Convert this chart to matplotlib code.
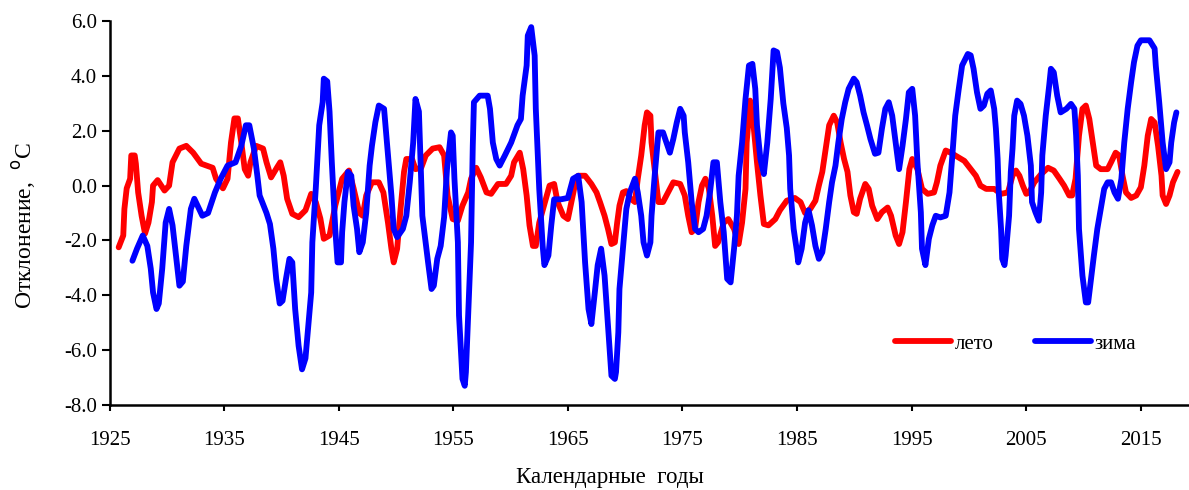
import matplotlib
matplotlib.use("Agg")
import matplotlib.pyplot as plt
from matplotlib.ticker import FormatStrFormatter

plt.rcParams["font.family"] = ["Liberation Serif", "DejaVu Serif"]
plt.rcParams["axes.unicode_minus"] = False

RED = "#ff0000"
BLUE = "#0000ff"

# лето (summer) anomaly
summer_years = [
    1925.8, 1926.2, 1926.3, 1926.5, 1926.8, 1926.9, 1927.2, 1927.3, 1927.5, 1927.8,
    1928.1, 1928.4, 1928.7, 1928.8, 1929.2, 1929.8, 1930.2, 1930.5, 1931.1, 1931.7,
    1932.3, 1933.0, 1934.0, 1934.3, 1934.9, 1935.3, 1935.6, 1935.9, 1936.2, 1936.5,
    1936.8, 1937.1, 1937.3, 1937.8, 1938.4, 1938.7, 1939.1, 1939.6, 1939.9, 1940.2,
    1940.5, 1940.95, 1941.5, 1942.1, 1942.6, 1943.0, 1943.4, 1943.7, 1944.2, 1944.7,
    1945.3, 1945.9, 1946.3, 1946.8, 1947.1, 1947.4, 1947.9, 1948.5, 1948.9, 1949.3,
    1949.6, 1949.8, 1950.1, 1950.4, 1950.7, 1950.9, 1951.4, 1951.7, 1952.2, 1952.6,
    1953.2, 1953.8, 1954.2, 1954.5, 1954.95, 1955.4, 1955.8, 1956.3, 1956.55, 1957.0,
    1957.4, 1957.9, 1958.3, 1958.9, 1959.6, 1960.05, 1960.3, 1960.8, 1961.1, 1961.4,
    1961.65, 1961.95, 1962.2, 1962.5, 1963.0, 1963.4, 1963.8, 1964.1, 1964.6, 1965.0,
    1965.3, 1965.6, 1965.9, 1966.5, 1967.05, 1967.5, 1967.8, 1968.2, 1968.5, 1968.8,
    1969.1, 1969.3, 1969.5, 1969.8, 1970.1, 1970.4, 1970.85, 1971.1, 1971.4, 1971.7,
    1971.9, 1972.2, 1972.3, 1972.6, 1972.9, 1973.3, 1973.8, 1974.2, 1974.8, 1975.2,
    1975.5, 1975.8, 1976.1, 1976.4, 1976.7, 1977.0, 1977.3, 1977.6, 1977.85, 1978.1,
    1978.6, 1979.0, 1979.5, 1979.9, 1980.2, 1980.5, 1980.6, 1980.9, 1981.2, 1981.5,
    1981.8, 1982.1, 1982.5, 1983.1, 1983.5, 1984.1, 1984.8, 1985.3, 1985.7, 1986.15,
    1986.6, 1986.9, 1987.2, 1987.5, 1987.8, 1988.2, 1988.5, 1988.8, 1989.1, 1989.4,
    1989.65, 1989.95, 1990.2, 1990.5, 1990.95, 1991.25, 1991.55, 1992.0, 1992.4, 1992.9,
    1993.2, 1993.6, 1993.9, 1994.2, 1994.5, 1994.8, 1995.05, 1995.5, 1995.9, 1996.4,
    1996.95, 1997.2, 1997.5, 1997.97, 1998.4, 1998.8, 1999.6, 2000.15, 2000.6, 2001.0,
    2001.5, 2002.2, 2002.8, 2003.4, 2003.8, 2004.1, 2004.4, 2004.7, 2005.0, 2005.25,
    2005.7, 2006.3, 2006.9, 2007.4, 2007.9, 2008.3, 2008.75, 2009.0, 2009.3, 2009.6,
    2009.9, 2010.2, 2010.5, 2010.8, 2011.1, 2011.5, 2012.1, 2012.4, 2012.8, 2013.1,
    2013.4, 2013.7, 2014.15, 2014.6, 2015.0, 2015.3, 2015.6, 2015.9, 2016.2, 2016.5,
    2016.8, 2016.9, 2017.2, 2017.5, 2017.8, 2018.2,
]
summer_vals = [
    -2.25, -1.82, -0.85, -0.1, 0.25, 1.1, 1.1, 0.8, -0.25, -1.1,
    -1.75, -1.35, -0.6, 0.0, 0.2, -0.18, 0.0, 0.85, 1.35, 1.45,
    1.2, 0.8, 0.65, 0.25, -0.1, 0.25, 1.57, 2.45, 2.45, 1.57,
    0.6, 0.36, 0.85, 1.45, 1.35, 0.85, 0.3, 0.65, 0.85, 0.36,
    -0.48, -1.03, -1.15, -0.9, -0.3, -0.6, -1.2, -1.94, -1.82, -0.73,
    0.25, 0.55, -0.1, -1.0, -1.1, -0.36, 0.12, 0.12, -0.25, -1.35,
    -2.3, -2.8, -2.3, -0.85, 0.5, 0.97, 0.97, 0.6, 0.65, 1.1,
    1.35, 1.4, 1.1, -0.36, -1.22, -1.28, -0.73, -0.25, 0.25, 0.65,
    0.3, -0.25, -0.3, 0.06, 0.06, 0.36, 0.85, 1.2, 0.6, -0.36,
    -1.45, -2.2, -2.2, -1.35, -0.6, 0.0, 0.06, -0.6, -1.1, -1.22,
    -0.6, 0.0, 0.36, 0.36, 0.06, -0.25, -0.6, -1.1, -1.58, -2.13,
    -2.07, -1.35, -0.73, -0.25, -0.2, -0.45, -0.6, 0.25, 1.1, 2.2,
    2.67, 2.55, 1.57, 0.5, -0.6, -0.6, -0.2, 0.12, 0.06, -0.36,
    -1.1, -1.7, -1.58, -0.6, 0.0, 0.25, -0.1, -1.1, -2.2, -2.07,
    -1.35, -1.22, -1.58, -2.13, -1.35, -0.12, 1.57, 3.1, 2.2, 0.85,
    -0.36, -1.4, -1.45, -1.22, -0.9, -0.55, -0.45, -0.6, -1.0, -0.85,
    -0.55, 0.0, 0.5, 1.35, 2.2, 2.55, 2.3, 1.57, 0.97, 0.5,
    -0.36, -0.97, -1.03, -0.48, 0.06, -0.12, -0.73, -1.22, -0.97, -0.8,
    -1.1, -1.82, -2.13, -1.7, -0.6, 0.6, 0.97, 0.6, -0.12, -0.3,
    -0.25, 0.12, 0.73, 1.28, 1.2, 1.1, 0.9, 0.6, 0.36, 0.0,
    -0.12, -0.12, -0.3, -0.25, 0.36, 0.55, 0.36, 0.0, -0.3, -0.25,
    0.12, 0.42, 0.65, 0.55, 0.25, 0.0, -0.36, -0.36, 0.25, 1.82,
    2.8, 2.92, 2.43, 1.57, 0.73, 0.6, 0.6, 0.85, 1.2, 1.1,
    0.36, -0.25, -0.45, -0.36, -0.06, 0.73, 1.82, 2.43, 2.3, 1.45,
    0.36, -0.36, -0.67, -0.36, 0.12, 0.5,
]

# зима (winter) anomaly
winter_years = [
    1927.0, 1927.4, 1927.9, 1928.3, 1928.6, 1928.8, 1929.1, 1929.3, 1929.6, 1929.9,
    1930.2, 1930.5, 1930.8, 1931.1, 1931.4, 1931.7, 1932.1, 1932.4, 1933.1, 1933.6,
    1934.2, 1934.7, 1935.3, 1936.0, 1936.5, 1936.9, 1937.2, 1937.6, 1937.9, 1938.1,
    1938.7, 1939.0, 1939.3, 1939.55, 1939.85, 1940.1, 1940.4, 1940.7, 1940.95, 1941.2,
    1941.5, 1941.8, 1942.1, 1942.3, 1942.6, 1942.7, 1943.0, 1943.3, 1943.6, 1943.7,
    1944.0, 1944.2, 1944.4, 1944.7, 1944.9, 1945.2, 1945.3, 1945.5, 1945.8, 1946.1,
    1946.3, 1946.6, 1946.8, 1947.1, 1947.4, 1947.7, 1947.9, 1948.2, 1948.5, 1948.96,
    1949.3, 1949.6, 1949.8, 1950.1, 1950.6, 1950.9, 1951.2, 1951.5, 1951.7, 1952.0,
    1952.3, 1952.8, 1953.1, 1953.3, 1953.6, 1953.9, 1954.2, 1954.45, 1954.8, 1954.95,
    1955.1, 1955.4, 1955.5, 1955.8, 1956.0, 1956.1, 1956.3, 1956.55, 1956.7, 1956.8,
    1957.3, 1958.0, 1958.2, 1958.45, 1958.75, 1959.05, 1959.5, 1960.05, 1960.6, 1960.9,
    1961.05, 1961.4, 1961.5, 1961.8, 1962.1, 1962.2, 1962.5, 1962.8, 1962.95, 1963.3,
    1963.55, 1963.8, 1964.4, 1965.0, 1965.45, 1965.9, 1966.2, 1966.5, 1966.8, 1967.05,
    1967.35, 1967.6, 1967.9, 1968.2, 1968.5, 1968.8, 1969.1, 1969.2, 1969.4, 1969.5,
    1969.8, 1970.1, 1970.4, 1970.85, 1971.1, 1971.4, 1971.6, 1971.9, 1972.2, 1972.3,
    1972.6, 1972.9, 1973.3, 1973.6, 1973.9, 1974.2, 1974.5, 1974.8, 1975.1, 1975.2,
    1975.5, 1975.8, 1976.1, 1976.4, 1976.8, 1977.1, 1977.4, 1977.7, 1978.0, 1978.3,
    1978.6, 1978.9, 1979.2, 1979.5, 1979.75, 1979.9, 1980.2, 1980.5, 1980.8, 1981.1,
    1981.35, 1981.5, 1981.8, 1982.1, 1982.4, 1982.7, 1982.95, 1983.25, 1983.5, 1983.8,
    1984.1, 1984.3, 1984.4, 1984.7, 1985.0, 1985.1, 1985.4, 1985.7, 1986.0, 1986.3,
    1986.6, 1986.9, 1987.2, 1987.5, 1987.8, 1988.05, 1988.35, 1988.6, 1988.9, 1989.2,
    1989.5, 1989.95, 1990.2, 1990.5, 1990.8, 1991.1, 1991.4, 1991.8, 1992.1, 1992.4,
    1992.7, 1993.0, 1993.3, 1993.6, 1993.9, 1994.2, 1994.5, 1994.75, 1995.05, 1995.3,
    1995.5, 1995.8, 1995.9, 1996.2, 1996.5, 1996.8, 1997.1, 1997.5, 1997.97, 1998.3,
    1998.55, 1998.8, 1999.1, 1999.4, 1999.9, 2000.15, 2000.4, 2000.7, 2001.0, 2001.3,
    2001.6, 2001.9, 2002.2, 2002.35, 2002.5, 2002.6, 2002.8, 2002.9, 2003.1, 2003.2,
    2003.5, 2003.65, 2003.8, 2003.95, 2004.2, 2004.5, 2004.8, 2005.1, 2005.4, 2005.5,
    2005.8, 2006.1, 2006.3, 2006.4, 2006.7, 2007.0, 2007.15, 2007.4, 2007.7, 2008.0,
    2008.5, 2008.9, 2009.2, 2009.35, 2009.5, 2009.6, 2009.9, 2010.2, 2010.4, 2010.65,
    2010.9, 2011.2, 2011.5, 2011.8, 2012.1, 2012.4, 2012.7, 2013.0, 2013.3, 2013.55,
    2013.85, 2014.15, 2014.4, 2014.7, 2015.0, 2015.75, 2016.2, 2016.3, 2016.6, 2016.9,
    2017.2, 2017.5, 2017.65, 2017.9, 2018.1,
]
winter_vals = [
    -2.74, -2.3, -1.82, -2.2, -3.03, -3.9, -4.5, -4.3, -3.03, -1.35,
    -0.85, -1.45, -2.55, -3.65, -3.5, -2.2, -0.85, -0.48, -1.1, -1.0,
    -0.25, 0.25, 0.73, 0.85, 1.45, 2.2, 2.2, 1.35, 0.36, -0.36,
    -1.0, -1.4, -2.3, -3.4, -4.3, -4.2, -3.4, -2.67, -2.8, -4.5,
    -5.84, -6.7, -6.3, -5.35, -3.9, -2.07, -0.1, 2.2, 3.04, 3.9,
    3.8, 2.7, 0.85, -1.58, -2.8, -2.8, -1.7, -0.6, 0.5, 0.36,
    -0.73, -1.58, -2.43, -2.07, -1.0, 0.73, 1.45, 2.31, 2.92, 2.8,
    1.1, -0.36, -1.58, -1.88, -1.58, -1.1, 0.12, 1.57, 3.16, 2.7,
    -1.1, -2.8, -3.77, -3.65, -2.67, -2.2, -1.15, 0.6, 1.94, 1.82,
    0.25, -2.07, -4.74, -7.05, -7.3, -6.8, -4.74, -2.07, 1.45, 3.04,
    3.28, 3.28, 2.8, 1.57, 0.97, 0.73, 1.1, 1.57, 2.2, 2.43,
    3.28, 4.38, 5.47, 5.78, 4.74, 2.8, -0.12, -2.2, -2.9, -2.55,
    -1.45, -0.5, -0.5, -0.45, 0.25, 0.36, -0.6, -2.8, -4.5, -5.05,
    -3.9, -2.9, -2.3, -3.28, -5.1, -6.93, -7.05, -6.8, -5.35, -3.77,
    -2.3, -0.85, -0.25, 0.25, -0.25, -1.1, -2.07, -2.55, -2.07, -1.1,
    0.5, 1.94, 1.94, 1.57, 1.2, 1.7, 2.3, 2.8, 2.55, 1.94,
    0.85, -0.6, -1.58, -1.7, -1.58, -1.1, -0.25, 0.85, 0.85, -0.6,
    -1.7, -3.4, -3.53, -2.3, -1.1, 0.36, 1.57, 3.16, 4.38, 4.44,
    3.53, 2.2, 0.97, 0.42, 1.57, 3.16, 4.93, 4.87, 4.3, 3.0,
    2.1, 1.1, -0.12, -1.58, -2.43, -2.8, -2.3, -1.35, -0.9, -1.45,
    -2.2, -2.67, -2.43, -1.58, -0.6, 0.12, 0.73, 1.57, 2.43, 3.04,
    3.53, 3.9, 3.77, 3.28, 2.67, 2.2, 1.7, 1.16, 1.2, 2.07,
    2.8, 3.04, 2.55, 1.57, 0.6, 1.45, 2.43, 3.4, 3.53, 2.55,
    0.85, -0.97, -2.3, -2.9, -1.94, -1.45, -1.1, -1.16, -1.1, -0.25,
    1.1, 2.55, 3.5, 4.38, 4.8, 4.75, 4.26, 3.4, 2.8, 2.92,
    3.35, 3.47, 2.8, 2.07, 0.97, -0.25, -1.58, -2.67, -2.9, -2.55,
    -1.1, 0.5, 1.35, 2.55, 3.1, 2.98, 2.55, 1.82, 0.73, -0.6,
    -0.97, -1.28, -0.25, 1.1, 2.55, 3.65, 4.26, 4.13, 3.28, 2.67,
    2.8, 2.98, 2.8, 1.82, 0.36, -1.58, -3.28, -4.26, -4.26, -3.4,
    -2.55, -1.58, -0.85, -0.12, 0.12, 0.12, -0.25, -0.48, 0.25, 1.57,
    2.8, 3.77, 4.5, 5.1, 5.3, 5.3, 5.0, 4.38, 3.04, 1.57,
    0.6, 0.85, 1.57, 2.3, 2.67,
]

x_ticks = list(range(1925, 2016, 10))
y_ticks = [-8, -6, -4, -2, 0, 2, 4, 6]

fig = plt.figure(figsize=(11.89, 4.9), dpi=100)
ax = fig.add_axes([0.0921, 0.1735, 0.9079, 0.7835])

ax.plot(summer_years, summer_vals, color=RED, linewidth=4.2, label="лето",
        solid_capstyle="round", solid_joinstyle="round")
ax.plot(winter_years, winter_vals, color=BLUE, linewidth=4.2, label="зима",
        solid_capstyle="round", solid_joinstyle="round")

ax.set_xlim(1925, 2019.2)
ax.set_ylim(-8, 6)
ax.set_xticks(x_ticks)
ax.set_yticks(y_ticks)
ax.yaxis.set_major_formatter(FormatStrFormatter("%.1f"))
ax.tick_params(axis="x", direction="out", length=4, width=1.5, pad=15,
               labelsize=15, colors="black")
ax.tick_params(axis="y", direction="out", length=6, width=1.5, pad=3,
               labelsize=15, colors="black")
for side in ("top", "right"):
    ax.spines[side].set_visible(False)
for side in ("left", "bottom"):
    ax.spines[side].set_linewidth(1.8)
    ax.spines[side].set_color("black")

fig.text(0.020, 0.54, "Отклонение,  $^{\\rm o}$C", rotation=90, ha="center",
         va="center", fontsize=17)
fig.text(0.513, 0.025, "Календарные  годы", ha="center", va="center", fontsize=16.5)

fig.legend(loc="center left", bbox_to_anchor=(895 / 1189, 1 - 344 / 490),
           ncol=2, frameon=False, fontsize=15, handlelength=2.7,
           handletextpad=0.15, columnspacing=2.0, borderpad=0, borderaxespad=0)

fig.savefig("out.png", dpi=100)
